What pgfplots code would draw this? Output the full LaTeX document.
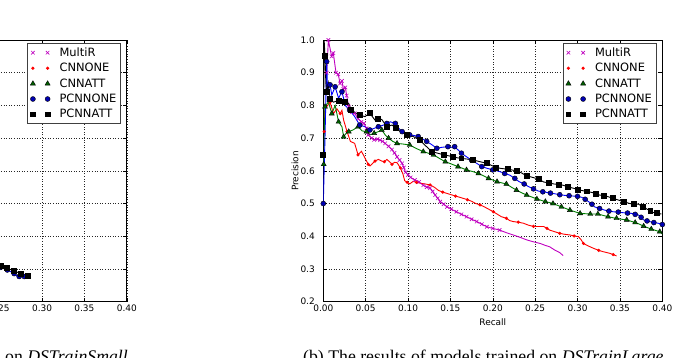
\documentclass[border=0pt]{standalone}
\usepackage{pgfplots}
\pgfplotsset{compat=1.18}
\usepackage{fontspec}
\setmainfont{Liberation Serif}
\newfontfamily\djv{DejaVu Sans}

\definecolor{mplm}{rgb}{0.75,0,0.75}
\definecolor{mplg}{rgb}{0,0.5,0}
\definecolor{mplb}{rgb}{0,0,1}

\pgfplotsset{
  multir/.style={mplm, line width=0.9bp, mark=x, mark size=2.5bp,
    mark options={solid, line width=0.6bp}},
  cnnone/.style={red, line width=0.9bp, mark=*, mark size=1.1bp, mark repeat=3,
    mark options={solid, fill=red, draw=red}},
  cnnatt/.style={mplg, line width=0.9bp, mark=triangle*, mark size=2.9bp, mark repeat=2,
    mark options={solid, fill=mplg!75!black, draw=black, line width=0.4bp}},
  pcnnone/.style={mplb, line width=0.9bp, mark=*, mark size=2.5bp, mark repeat=2,
    mark options={solid, fill=mplb!70!black, draw=black, line width=0.4bp}},
  pcnnatt/.style={black, line width=0.9bp, mark=square*, mark size=2.45bp, mark repeat=2,
    mark options={solid, fill=black, draw=black}},
  prframe/.style={
    scale only axis, width=339bp, height=261.7bp,
    xmin=0, xmax=0.4, ymin=0.2, ymax=1.0,
    xtick={0,0.05,0.1,0.15,0.2,0.25,0.3,0.35,0.4},
    ytick={0.2,0.3,0.4,0.5,0.6,0.7,0.8,0.9,1.0},
    grid=major,
    grid style={black!85, line width=0.5bp, dash pattern=on 1bp off 1.6bp},
    axis line style={black, line width=0.8bp},
    tick align=inside, major tick length=4bp,
    tick style={black, line width=0.6bp},
    /pgf/number format/assume math mode=true,
    ticklabel style={font=\djv\fontsize{9}{10}\selectfont},
    xticklabel style={/pgf/number format/.cd, fixed, fixed zerofill, precision=2},
    yticklabel style={xshift=-5bp, /pgf/number format/.cd, fixed, fixed zerofill, precision=1},
    label style={font=\djv\fontsize{9}{10}\selectfont},
    xlabel style={at={(axis description cs:0.5,-0.0776)}, anchor=center},
    ylabel style={at={(axis description cs:-0.0835,0.5)}, anchor=center, rotate=0},
    legend style={at={(1,1)}, anchor=north east, xshift=-5.6bp, yshift=-2.8bp,
      draw=black!75, line width=0.8bp, fill=white,
      font=\djv\fontsize{11.5}{12}\selectfont,
      inner xsep=3bp, inner ysep=3bp, row sep=2.6bp,
      nodes={inner sep=1.4bp},
      /tikz/every odd column/.append style={column sep=8bp}},
    legend cell align=left,
    legend image code/.code={%
      \draw[#1, mark repeat=1, mark phase=1] plot[only marks]
        coordinates {(0bp,0bp) (14.7bp,0bp)};},
  },
}

\begin{document}
\begin{tikzpicture}
\useasboundingbox (0bp,0bp) rectangle (675bp,-358bp);
\clip (0bp,0bp) rectangle (675bp,-358bp);

% (a) models trained on DSTrainSmall
\begin{axis}[prframe, at={(-212.2bp,-301.7bp)}, anchor=south west]
\addlegendimage{multir}
\addlegendimage{cnnone}
\addlegendimage{cnnatt}
\addplot[pcnnone] coordinates {
(0.243,0.314) (0.247,0.309) (0.251,0.305) (0.255,0.301) (0.259,0.297)
(0.263,0.292) (0.267,0.286) (0.270,0.280) (0.273,0.277) (0.276,0.276)
(0.279,0.277) (0.281,0.278)};
\addplot[pcnnatt] coordinates {
(0.243,0.318) (0.247,0.313) (0.251,0.309) (0.255,0.306) (0.259,0.302)
(0.263,0.298) (0.267,0.294) (0.271,0.290) (0.275,0.286) (0.279,0.283)
(0.283,0.280) (0.284,0.279)};
\legend{MultiR, CNNONE, CNNATT, PCNNONE, PCNNATT}
\end{axis}

% (b) models trained on DSTrainLarge
\begin{axis}[prframe, at={(323.3bp,-301.7bp)}, anchor=south west,
  xlabel={Recall}, ylabel={Precision}]
\addplot[multir] coordinates {
(0.004,0.90) (0.006,1.00) (0.0098,0.95) (0.0118,0.96) (0.015,0.90) (0.0177,0.895)
(0.0197,0.867) (0.022,0.875) (0.0236,0.85) (0.026,0.855) (0.0276,0.83) (0.030,0.796)
(0.0315,0.786) (0.034,0.78) (0.037,0.776) (0.041,0.76) (0.045,0.75) (0.048,0.745)
(0.051,0.73) (0.053,0.71) (0.057,0.70) (0.060,0.695) (0.064,0.697) (0.067,0.694)
(0.070,0.69) (0.073,0.684) (0.077,0.675) (0.081,0.665) (0.084,0.655) (0.087,0.643)
(0.090,0.633) (0.093,0.623) (0.095,0.61) (0.097,0.596) (0.100,0.588) (0.103,0.58)
(0.108,0.572) (0.113,0.566) (0.118,0.556) (0.122,0.55) (0.126,0.547) (0.129,0.537)
(0.132,0.526) (0.135,0.516) (0.138,0.506) (0.142,0.498) (0.146,0.49) (0.151,0.483)
(0.157,0.475) (0.163,0.467) (0.169,0.46) (0.175,0.452) (0.181,0.445) (0.187,0.437)
(0.193,0.429) (0.200,0.424) (0.208,0.419)};
\addplot[mplm, line width=0.9bp, forget plot] coordinates {
(0.208,0.419) (0.216,0.411) (0.224,0.404) (0.232,0.397) (0.240,0.389) (0.248,0.383)
(0.256,0.378) (0.262,0.372) (0.267,0.368) (0.273,0.358) (0.279,0.350) (0.283,0.341)};
\addplot[cnnone] coordinates {
(0.001,0.72) (0.002,0.786) (0.005,0.80) (0.008,0.81) (0.012,0.775) (0.016,0.79)
(0.020,0.775) (0.022,0.785) (0.024,0.755) (0.028,0.72) (0.032,0.69) (0.037,0.684)
(0.041,0.649) (0.045,0.66) (0.049,0.64) (0.053,0.62) (0.055,0.615) (0.058,0.622)
(0.061,0.63) (0.065,0.635) (0.069,0.63) (0.072,0.628) (0.075,0.635) (0.078,0.628)
(0.081,0.62) (0.084,0.626) (0.087,0.625) (0.091,0.609) (0.094,0.59) (0.096,0.57)
(0.099,0.565) (0.102,0.56) (0.106,0.568) (0.110,0.565) (0.115,0.562) (0.120,0.56)
(0.126,0.557) (0.131,0.55) (0.136,0.54) (0.141,0.535) (0.146,0.531) (0.151,0.527)
(0.156,0.523) (0.160,0.52) (0.165,0.516) (0.170,0.512) (0.175,0.507) (0.180,0.50)
(0.185,0.496) (0.190,0.49) (0.195,0.483) (0.2006,0.475) (0.205,0.468) (0.210,0.46)
(0.216,0.455) (0.220,0.448) (0.224,0.445) (0.230,0.443) (0.236,0.44) (0.242,0.434)
(0.248,0.43) (0.254,0.43) (0.260,0.43) (0.264,0.424) (0.267,0.419) (0.273,0.414)
(0.279,0.409) (0.285,0.406) (0.291,0.404) (0.296,0.401) (0.301,0.399) (0.304,0.39)
(0.307,0.378) (0.313,0.37) (0.319,0.363) (0.325,0.357) (0.330,0.353) (0.338,0.348)
(0.342,0.344) (0.346,0.34)};
\addplot[cnnatt] coordinates {
(0.0005,0.62) (0.001,0.694) (0.002,0.796) (0.006,0.811) (0.010,0.775) (0.014,0.80)
(0.018,0.75) (0.022,0.735) (0.024,0.704) (0.027,0.715) (0.030,0.72) (0.035,0.725)
(0.041,0.735) (0.046,0.722) (0.051,0.72) (0.055,0.71) (0.060,0.715) (0.065,0.72)
(0.069,0.725) (0.073,0.71) (0.077,0.70) (0.082,0.69) (0.087,0.684) (0.094,0.682)
(0.102,0.679) (0.110,0.668) (0.118,0.659) (0.124,0.654) (0.130,0.649) (0.137,0.638)
(0.144,0.628) (0.152,0.62) (0.159,0.613) (0.164,0.608) (0.169,0.603) (0.176,0.598)
(0.183,0.592) (0.189,0.585) (0.195,0.577) (0.200,0.572) (0.205,0.567) (0.211,0.563)
(0.216,0.56) (0.222,0.55) (0.228,0.541) (0.234,0.533) (0.240,0.526) (0.246,0.52)
(0.252,0.514) (0.257,0.51) (0.262,0.506) (0.267,0.503) (0.271,0.50) (0.276,0.495)
(0.281,0.49) (0.286,0.485) (0.291,0.48) (0.297,0.475) (0.303,0.47) (0.309,0.469)
(0.315,0.468) (0.320,0.468) (0.324,0.468) (0.330,0.464) (0.336,0.46) (0.341,0.457)
(0.346,0.455) (0.352,0.452) (0.358,0.45) (0.363,0.446) (0.368,0.442) (0.373,0.437)
(0.378,0.431) (0.383,0.426) (0.387,0.422) (0.392,0.418) (0.397,0.414) (0.400,0.407)};
\addplot[pcnnone] coordinates {
(0.000,0.50) (0.002,0.70) (0.004,0.934) (0.005,0.847) (0.008,0.863) (0.010,0.832)
(0.014,0.857) (0.018,0.822) (0.022,0.842) (0.026,0.80) (0.031,0.786) (0.037,0.766)
(0.043,0.74) (0.049,0.735) (0.055,0.725) (0.060,0.73) (0.065,0.735) (0.071,0.74)
(0.075,0.745) (0.079,0.75) (0.085,0.745) (0.089,0.73) (0.093,0.72) (0.098,0.713)
(0.102,0.71) (0.107,0.708) (0.112,0.705) (0.117,0.698) (0.122,0.69) (0.128,0.68)
(0.134,0.669) (0.140,0.672) (0.147,0.674) (0.151,0.672) (0.155,0.674) (0.159,0.664)
(0.163,0.654) (0.169,0.643) (0.175,0.633) (0.181,0.623) (0.187,0.613) (0.193,0.608)
(0.200,0.603) (0.208,0.598) (0.214,0.592) (0.220,0.587) (0.226,0.577) (0.231,0.567)
(0.237,0.56) (0.242,0.552) (0.248,0.545) (0.254,0.538) (0.259,0.536) (0.264,0.534)
(0.268,0.532) (0.273,0.53) (0.279,0.527) (0.285,0.525) (0.290,0.524) (0.295,0.523)
(0.300,0.522) (0.305,0.519) (0.309,0.513) (0.313,0.506) (0.317,0.498) (0.320,0.49)
(0.326,0.485) (0.332,0.48) (0.337,0.477) (0.342,0.475) (0.348,0.474) (0.354,0.472)
(0.359,0.471) (0.364,0.47) (0.368,0.467) (0.372,0.465) (0.375,0.458) (0.378,0.45)
(0.382,0.447) (0.385,0.445) (0.390,0.442) (0.395,0.44) (0.400,0.436)};
\addplot[pcnnatt] coordinates {
(0.000,0.65) (0.001,1.00) (0.002,0.95) (0.003,0.87) (0.004,0.84) (0.006,0.868)
(0.008,0.82) (0.012,0.81) (0.018,0.815) (0.022,0.81) (0.026,0.81) (0.030,0.806)
(0.033,0.786) (0.039,0.776) (0.043,0.77) (0.049,0.766) (0.055,0.776) (0.061,0.755)
(0.065,0.76) (0.069,0.757) (0.075,0.735) (0.081,0.74) (0.086,0.73) (0.091,0.72)
(0.099,0.71) (0.106,0.705) (0.114,0.694) (0.121,0.676) (0.128,0.659) (0.135,0.654)
(0.142,0.649) (0.148,0.646) (0.153,0.643) (0.158,0.64) (0.163,0.638) (0.170,0.636)
(0.177,0.633) (0.185,0.628) (0.193,0.623) (0.199,0.616) (0.204,0.61) (0.211,0.607)
(0.218,0.605) (0.224,0.602) (0.229,0.60) (0.235,0.592) (0.240,0.585) (0.247,0.58)
(0.254,0.575) (0.260,0.566) (0.266,0.563) (0.272,0.56) (0.278,0.558) (0.283,0.556)
(0.289,0.551) (0.295,0.547) (0.300,0.543) (0.305,0.54) (0.311,0.537) (0.317,0.534)
(0.322,0.53) (0.326,0.526) (0.331,0.524) (0.336,0.521) (0.342,0.516) (0.348,0.511)
(0.355,0.505) (0.362,0.50) (0.367,0.499) (0.372,0.498) (0.377,0.49) (0.382,0.483)
(0.386,0.477) (0.389,0.473) (0.394,0.47) (0.399,0.468)};
\legend{MultiR, CNNONE, CNNATT, PCNNONE, PCNNATT}
\end{axis}

\node[anchor=base east, inner sep=0pt] at (128bp,-362bp)
  {\fontsize{17.8}{20}\selectfont (a) The results of models trained on \textit{DSTrainSmall}};
\node[anchor=base west, inner sep=0pt] at (303bp,-362bp)
  {\fontsize{17.8}{20}\selectfont (b) The results of models trained on \textit{DSTrainLarge}};
\end{tikzpicture}
\end{document}
